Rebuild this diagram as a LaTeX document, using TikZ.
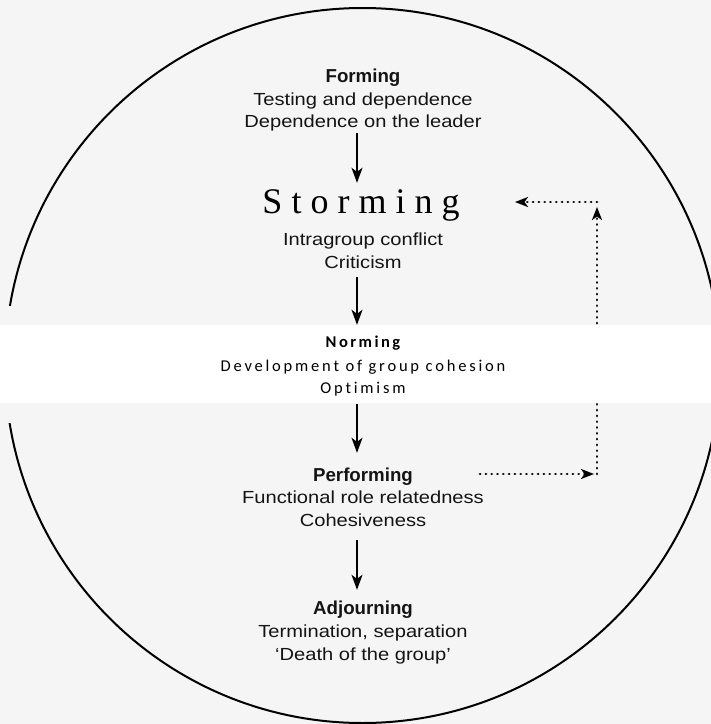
\documentclass[tikz,border=0pt]{standalone}
\usepackage{fontspec}
\setmainfont{Liberation Sans}
\newfontfamily\sansreg[FakeStretch=1.15]{Liberation Sans}
\newfontfamily\stormfont[LetterSpace=25]{Liberation Serif}
\newfontfamily\normfont[LetterSpace=17,Ligatures={NoCommon,NoDiscretionary}]{Carlito}
\newfontfamily\normfontb[LetterSpace=15,Ligatures={NoCommon}]{Carlito Bold}
\usetikzlibrary{arrows.meta}
\definecolor{ink}{RGB}{20,20,20}
\definecolor{paper}{RGB}{245,245,245}
\begin{document}
\begin{tikzpicture}[x=1pt,y=-1pt,
  txt/.style={inner sep=0pt,anchor=base,text=ink,text height=13pt,text depth=4pt},
  head/.style={txt,font=\fontsize{18.7}{22}\selectfont\bfseries},
  body/.style={txt,font=\sansreg\fontsize{17.5}{21}\selectfont},
  nhead/.style={txt,text=black,font=\normfontb\fontsize{16.5}{20}\selectfont},
  nbody/.style={txt,text=black,font=\normfont\fontsize{16.5}{20}\selectfont},
  circ/.style={draw=black,line width=2pt},
  arr/.style={draw=black,line width=1.8pt,-{Stealth[length=15pt,width=11pt,inset=4pt]}},
  dotarr/.style={draw=black,line width=2.7pt,line cap=round,dash pattern=on 0.2pt off 5.6pt,
     -{Stealth[length=13pt,width=10pt,inset=3.5pt]}}]
\useasboundingbox (0,0) rectangle (711,724);
\clip (0,0) rectangle (711,724);
\fill[paper] (0,0) rectangle (711,724);
% circle (interrupted on the left where the white band is)
\begin{scope}
  \clip (0,0) rectangle (711,305);
  \draw[circ] (362.5,365.5) circle[radius=357.5];
\end{scope}
\begin{scope}
  \clip (0,423) rectangle (711,724);
  \draw[circ] (362.5,365.5) circle[radius=357.5];
\end{scope}

% text nodes
\node[head] (f0) at (363,82) {Forming};
\node[body] (f1) at (363,105) {Testing and dependence};
\node[body] (f2) at (363,127) {Dependence on the leader};

\node[txt,text=black,text height=24pt,text depth=8pt,font=\stormfont\fontsize{36}{40}\selectfont] (s0) at (361,213) {Storming};
\node[body] (s1) at (363,245) {Intragroup conflict};
\node[body] (s2) at (363,268) {Criticism};

\node[head] (p0) at (363,481) {Performing};
\node[body] (p1) at (363,503) {Functional role relatedness};
\node[body] (p2) at (363,526) {Cohesiveness};

\node[head] (a0) at (363,614) {Adjourning};
\node[body] (a1) at (363,637) {Termination, separation};
\node[body] (a2) at (363,660) {‘Death of the group’};

% dotted feedback path
\coordinate (ax) at (357,0);
\coordinate (c1) at (597,474);
\coordinate (c2) at (597,202);
\draw[dotarr,shorten >=3pt] (480,474) coordinate (d0) -- (c1);
\draw[dotarr,shorten >=5pt] (c1) -- (c2);
\draw[dotarr] (c2) -- (515,202) coordinate (d1);

% white pasted band for Norming
\fill[white] (0,325) rectangle (711,403);
\node[nhead] (n0) at (363,347) {Norming};
\node[nbody] (n1) at (363,371) {Development of group cohesion};
\node[nbody] (n2) at (363,393) {Optimism};

% solid arrows
\draw[arr,shorten <=2pt,shorten >=6pt] (f2.south -| ax) -- (s0.north -| ax);
\draw[arr,shorten <=5pt,shorten >=9pt] (s2.south -| ax) -- (n0.north -| ax);
\draw[arr,shorten <=7pt,shorten >=15pt] (n2.south -| ax) -- (p0.north -| ax);
\draw[arr,shorten <=10pt,shorten >=11pt] (p2.south -| ax) -- (a0.north -| ax);
\end{tikzpicture}
\end{document}
